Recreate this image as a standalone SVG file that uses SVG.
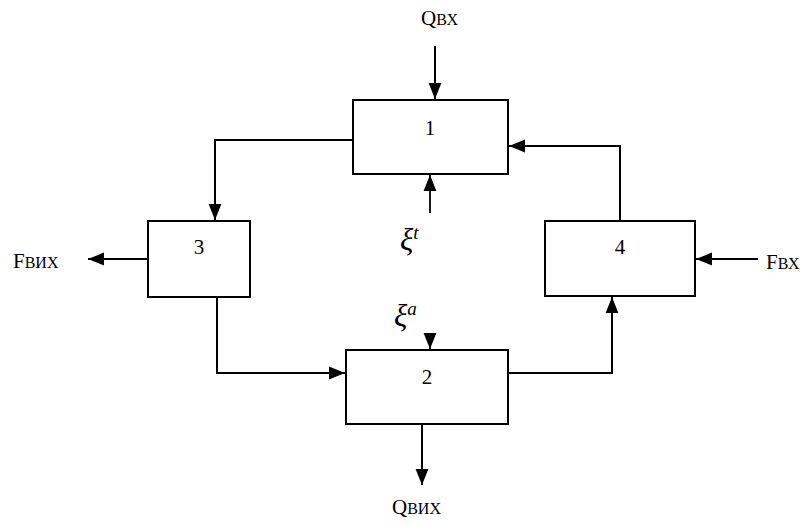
<svg xmlns="http://www.w3.org/2000/svg" width="806" height="525" viewBox="0 0 806 525">
<defs>
<style>
.box{fill:#fff;stroke:#000;stroke-width:2}
.ln{fill:none;stroke:#000;stroke-width:2}
.t{font-family:"Liberation Serif","Times New Roman",serif;font-size:21px;fill:#000}
.s{font-size:16px}
.xi{font-family:"Liberation Serif","Times New Roman",serif;font-style:italic;font-size:31px;fill:#000}
.sup{font-size:19px}
</style>
<marker id="ahs" viewBox="0 0 10 10" refX="10" refY="5" markerWidth="16" markerHeight="16" markerUnits="userSpaceOnUse" orient="auto">
<path d="M0,1 L10,5 L0,9 z" fill="#000"/>
</marker>
</defs>
<g id="connectors">
<line class="ln" x1="435" y1="46" x2="435" y2="99" marker-end="url(#ahs)"/>
<polyline class="ln" points="353,140 215,140 215,220" marker-end="url(#ahs)"/>
<polyline class="ln" points="217,297 217,373 345,373" marker-end="url(#ahs)"/>
<polyline class="ln" points="508,373 612,373 612,297" marker-end="url(#ahs)"/>
<polyline class="ln" points="620,220 620,146 509,146" marker-end="url(#ahs)"/>
<line class="ln" x1="430" y1="213" x2="430" y2="175" marker-end="url(#ahs)" style="stroke-width:1.8"/>
<line class="ln" x1="430" y1="334" x2="430" y2="349" marker-end="url(#ahs)"/>
<line class="ln" x1="147" y1="259" x2="88" y2="259" marker-end="url(#ahs)"/>
<line class="ln" x1="758" y1="259" x2="696" y2="259" marker-end="url(#ahs)"/>
<line class="ln" x1="422" y1="424" x2="422" y2="485" marker-end="url(#ahs)"/>
</g>
<g id="node1"><rect class="box" x="353" y="100" width="155" height="74"/><text class="t" x="430" y="135" text-anchor="middle">1</text></g>
<g id="node3"><rect class="box" x="148" y="221" width="102" height="76"/><text class="t" x="199" y="254" text-anchor="middle">3</text></g>
<g id="node4"><rect class="box" x="545" y="221" width="150" height="75"/><text class="t" x="620" y="254" text-anchor="middle">4</text></g>
<g id="node2"><rect class="box" x="346" y="350" width="162" height="74"/><text class="t" x="427" y="384" text-anchor="middle">2</text></g>
<g id="labels">
<text class="t" x="421" y="25">Q<tspan class="s">ВХ</tspan></text>
<text class="t" x="13" y="268">F<tspan class="s">ВИХ</tspan></text>
<text class="t" x="766" y="269">F<tspan class="s">ВХ</tspan></text>
<text class="t" x="392" y="514">Q<tspan class="s">ВИХ</tspan></text>
<text class="xi" x="400" y="250">ξ<tspan class="sup" dy="-11">t</tspan></text>
<text class="xi" x="394" y="326">ξ<tspan class="sup" dy="-11">a</tspan></text>
</g>
</svg>
